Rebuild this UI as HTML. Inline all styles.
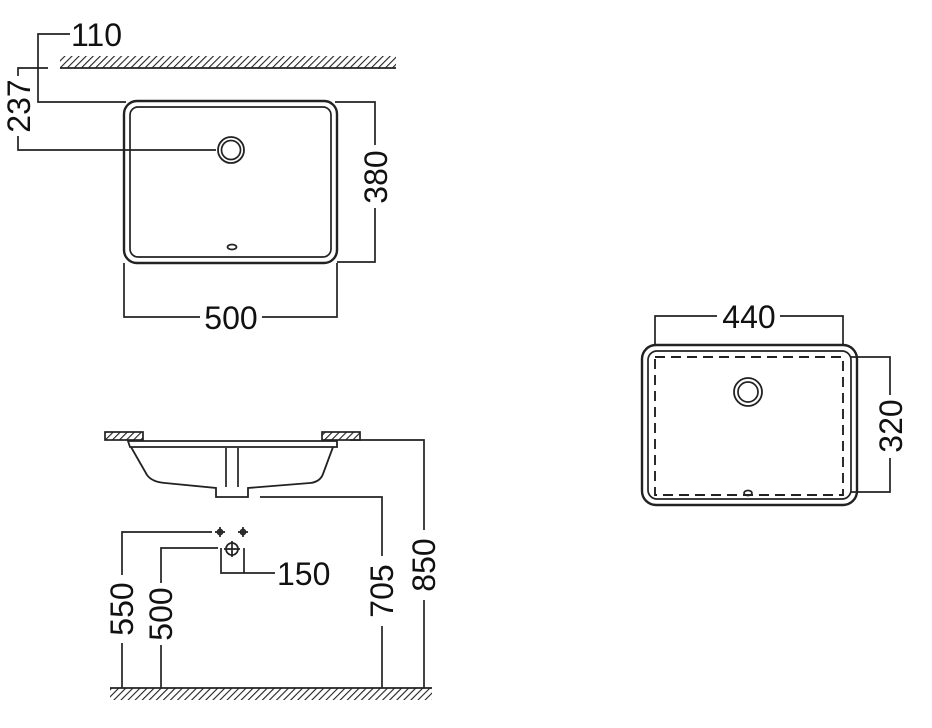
<!DOCTYPE html><html><head><style>body{margin:0;background:#fff}svg{display:block}text{font-family:"Liberation Sans",sans-serif;font-size:32px;fill:#111}</style></head><body>
<svg width="932" height="728" viewBox="0 0 932 728" xmlns="http://www.w3.org/2000/svg">
<defs><pattern id="h" width="5" height="5" patternUnits="userSpaceOnUse" patternTransform="rotate(45)"><rect width="5" height="5" fill="#fff"/><line x1="0" y1="0" x2="0" y2="5" stroke="#222" stroke-width="2.2"/></pattern></defs>
<g stroke="#222" stroke-width="1.7" fill="none">
<rect x="60" y="56" width="336" height="12" fill="url(#h)" stroke="none"/>
<line x1="60" y1="68" x2="396" y2="68"/>
<rect x="124" y="101" width="213" height="162" rx="13" stroke-width="2.4"/>
<rect x="130" y="107" width="201" height="150" rx="8"/>
<circle cx="231" cy="150" r="13" stroke-width="1.8"/><circle cx="231" cy="150" r="9.5"/>
<ellipse cx="232" cy="247" rx="4.5" ry="2.5"/>
<polyline points="70,34 38,34 38,102 126,102"/>
<polyline points="48,68 18,68 18,76"/><polyline points="18,136 18,150 216,150"/>
<polyline points="335,102 375,102 375,145"/><polyline points="375,208 375,262 337,262"/>
<polyline points="124,263 124,317 200,317"/><polyline points="262,317 337,317 337,263"/>
<rect x="642" y="345" width="215" height="160" rx="14" stroke-width="2.4"/>
<rect x="648" y="351" width="203" height="148" rx="9"/>
<rect x="655" y="357" width="188" height="138" stroke-dasharray="10,6" stroke-width="1.9"/>
<circle cx="748" cy="392" r="14" stroke-width="1.8"/><circle cx="748" cy="392" r="10"/>
<ellipse cx="748" cy="493" rx="4" ry="2.5"/>
<polyline points="655,345 655,316 717,316"/><polyline points="780,316 843,316 843,345"/>
<polyline points="851,357 890,357 890,395"/><polyline points="890,458 890,492 851,492"/>
<rect x="105" y="432" width="38" height="8" fill="url(#h)"/>
<rect x="322" y="432" width="38" height="8" fill="url(#h)"/>
<path d="M128,441 L337,441 L337,447 L130,447 Z" stroke-width="1.8"/>
<path d="M131,447 L147,475 Q152,482 165,483 L216,488 L216,497 L248,497 L248,488 L310,483 Q320,482 323,474 L333,447" stroke-width="1.8"/>
<line x1="226" y1="448" x2="226" y2="487"/><line x1="238" y1="448" x2="238" y2="487"/>
<polyline points="260,497 382,497 382,556"/><line x1="382" y1="626" x2="382" y2="688"/>
<polyline points="350,440 424,440 424,530"/><line x1="424" y1="600" x2="424" y2="688"/>
<rect x="110" y="688" width="322" height="12" fill="url(#h)" stroke="none"/>
<line x1="110" y1="688" x2="432" y2="688"/>
<polyline points="212,532 122,532 122,575"/><line x1="122" y1="643" x2="122" y2="688"/>
<polyline points="218,548 161,548 161,583"/><line x1="161" y1="645" x2="161" y2="688"/>
<circle cx="220" cy="532" r="2.5"/><path d="M215,532h10M220,527v10"/>
<circle cx="243" cy="532" r="2.5"/><path d="M238,532h10M243,527v10"/>
<circle cx="232" cy="549" r="6"/><path d="M224,549h16M232,541v16"/>
<polyline points="221,548 221,573 275,573"/><line x1="244" y1="548" x2="244" y2="573"/>
</g>
<text x="71" y="46">110</text>
<text x="231" y="329" text-anchor="middle">500</text>
<text x="749" y="328" text-anchor="middle">440</text>
<text x="277" y="585">150</text>
<text transform="translate(30,106) rotate(-90)" text-anchor="middle">237</text>
<text transform="translate(387,177) rotate(-90)" text-anchor="middle">380</text>
<text transform="translate(902,426) rotate(-90)" text-anchor="middle">320</text>
<text transform="translate(133,609) rotate(-90)" text-anchor="middle">550</text>
<text transform="translate(172,614) rotate(-90)" text-anchor="middle">500</text>
<text transform="translate(393,591) rotate(-90)" text-anchor="middle">705</text>
<text transform="translate(435,565) rotate(-90)" text-anchor="middle">850</text>
</svg></body></html>
